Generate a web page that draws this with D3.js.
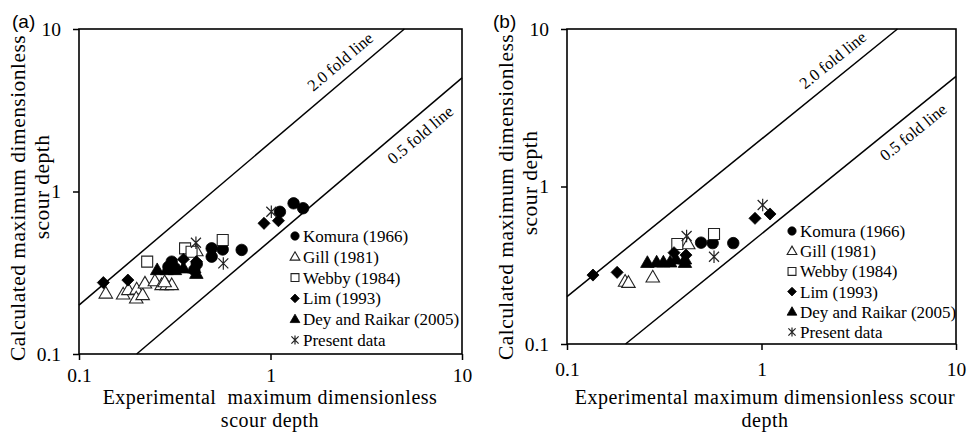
<!DOCTYPE html>
<html>
<head>
<meta charset="utf-8">
<script src="https://cdn.jsdelivr.net/npm/d3@7"></script>
<style>
  html, body { margin: 0; padding: 0; background: #fff; }
  svg text { font-family: "Liberation Serif", "Times New Roman", serif; fill: #000; }
</style>
</head>
<body>
<svg id="chart" width="968" height="432"></svg>
<script>
// Axis ticks (log scales, both axes)
const tickValues = [0.1, 1, 10];
const tickLabels = ["0.1", "1", "10"];

// Series names in legend order
const seriesNames = ["Komura (1966)", "Gill (1981)", "Webby (1984)", "Lim (1993)", "Dey and Raikar (2005)", "Present data"];

// Panel (a): [experimental, calculated]
const komuraA = [[0.305,0.370],[0.293,0.344],[0.317,0.337],[0.412,0.358],[0.400,0.329],[0.493,0.447],[0.493,0.397],[0.563,0.440],[0.707,0.437],[1.12,0.750],[1.32,0.846],[1.48,0.789]];
const gillA = [[0.138,0.236],[0.170,0.233],[0.181,0.248],[0.200,0.250],[0.199,0.220],[0.215,0.231],[0.221,0.272],[0.249,0.281],[0.270,0.266],[0.287,0.266],[0.305,0.266],[0.280,0.277],[0.410,0.430]];
const webbyA = [[0.227,0.370],[0.358,0.447],[0.387,0.426],[0.563,0.503]];
const limA = [[0.134,0.275],[0.180,0.285],[0.351,0.383],[0.410,0.370],[0.925,0.637],[1.10,0.661]];
const deyA = [[0.256,0.329],[0.287,0.329],[0.317,0.329],[0.351,0.337],[0.400,0.337],[0.410,0.312]];
const presentA = [[0.408,0.484],[0.567,0.361],[1.01,0.751]];

// Panel (b): [experimental, calculated]
const komuraB = [[0.489,0.440],[0.561,0.437],[0.716,0.437]];
const gillB = [[0.199,0.249],[0.207,0.245],[0.276,0.265],[0.420,0.431]];
const webbyB = [[0.369,0.431],[0.570,0.499]];
const limB = [[0.136,0.274],[0.181,0.285],[0.355,0.380],[0.409,0.367],[0.926,0.628],[1.106,0.669]];
const deyB = [[0.259,0.328],[0.289,0.330],[0.313,0.330],[0.339,0.330],[0.363,0.345],[0.404,0.328],[0.404,0.345]];
const presentB = [[0.412,0.485],[0.570,0.358],[1.014,0.763]];

// Fold lines: calculated = factor * experimental
const foldFactors = [2.0, 0.5];
const foldLabels = ["2.0 fold line", "0.5 fold line"];
const foldLabelAt = [2.63, 5.33];   // experimental value where each label sits

const SERIF = '"Liberation Serif", "Times New Roman", serif';
const svg = d3.select("#chart");

// Marker path generators
function markerPath(kind, s) {
  const p = d3.path();
  if (kind === "circle") {
    p.arc(0, 0, s * 0.5, 0, Math.PI * 2); p.closePath();
  } else if (kind === "triangle") {
    const h = s * Math.sqrt(3) / 2;
    p.moveTo(0, -h * 0.6); p.lineTo(s / 2, h * 0.4); p.lineTo(-s / 2, h * 0.4); p.closePath();
  } else if (kind === "square") {
    p.rect(-s / 2, -s / 2, s, s);
  } else if (kind === "diamond") {
    const r = s * 0.55;
    p.moveTo(0, -r); p.lineTo(r, 0); p.lineTo(0, r); p.lineTo(-r, 0); p.closePath();
  } else if (kind === "star") {
    const r = s * 0.5, d = r * 0.8;
    p.moveTo(-d, -d); p.lineTo(d, d);
    p.moveTo(d, -d); p.lineTo(-d, d);
    p.moveTo(0, -r); p.lineTo(0, r);
  }
  return p.toString();
}

const styles = [
  { kind: "circle",   fill: "#000", stroke: "#000", sw: 0.8, size: 11.5 },
  { kind: "triangle", fill: "#fff", stroke: "#222", sw: 1.1, size: 13.5 },
  { kind: "square",   fill: "#fff", stroke: "#222", sw: 1.1, size: 11 },
  { kind: "diamond",  fill: "#000", stroke: "#000", sw: 0.8, size: 11 },
  { kind: "triangle", fill: "#000", stroke: "#000", sw: 0.8, size: 13.5 },
  { kind: "star",     fill: "none", stroke: "#222", sw: 1.2, size: 12.5 }
];

function drawPanel(cfg) {
  const g = svg.append("g");
  const x = d3.scaleLog().domain([0.1, 10]).range([cfg.left, cfg.right]);
  const y = d3.scaleLog().domain([0.1, 10]).range([cfg.bottom, cfg.top]);

  // Fold lines y = f·x, cut to the plotting box
  foldFactors.forEach(f => {
    const x0 = Math.max(0.1, 0.1 / f), x1 = Math.min(10, 10 / f);
    g.append("line")
      .attr("x1", x(x0)).attr("y1", y(x0 * f))
      .attr("x2", x(x1)).attr("y2", y(x1 * f))
      .attr("stroke", "#000").attr("stroke-width", 1.5);
  });

  // Fold line labels, rotated along the line
  const ang = Math.atan2(y(10) - y(1), x(10) - x(1)) * 180 / Math.PI;
  foldFactors.forEach((f, i) => {
    const xv = foldLabelAt[i];
    const px = x(xv), py = y(xv * f);
    g.append("text")
      .attr("transform", `translate(${px},${py}) rotate(${ang})`)
      .attr("x", 0).attr("y", f > 1 ? -11 : 22)
      .attr("text-anchor", "middle")
      .style("font-family", SERIF).style("font-size", "16.5px")
      .text(foldLabels[i]);
  });

  // Frame
  g.append("rect")
    .attr("x", cfg.left).attr("y", cfg.top)
    .attr("width", cfg.right - cfg.left).attr("height", cfg.bottom - cfg.top)
    .attr("fill", "none").attr("stroke", "#000").attr("stroke-width", 1.6);

  // Axes
  const xAxis = d3.axisBottom(x).tickValues(tickValues)
    .tickFormat((d, i) => tickLabels[i]).tickSize(6).tickSizeOuter(0);
  const yAxis = d3.axisLeft(y).tickValues(tickValues)
    .tickFormat((d, i) => tickLabels[i]).tickSize(6).tickSizeOuter(0);

  const gx = g.append("g").attr("transform", `translate(0,${cfg.bottom})`).call(xAxis);
  const gy = g.append("g").attr("transform", `translate(${cfg.left},0)`).call(yAxis);
  [gx, gy].forEach(a => {
    a.select(".domain").remove();
    a.selectAll(".tick line").attr("stroke", "#000").attr("stroke-width", 1.5);
    a.selectAll(".tick text")
      .style("font-family", SERIF).style("font-size", "19.5px").attr("fill", "#000");
  });
  gx.selectAll(".tick text").attr("y", cfg.xTickY).attr("dy", 0);
  gy.selectAll(".tick text").attr("x", -18).attr("dy", "0.33em");

  // Axis titles
  const xt = g.append("text")
    .attr("text-anchor", "middle")
    .style("font-family", SERIF).style("font-size", "20px")
    .style("letter-spacing", "0.5px").style("white-space", "pre");
  cfg.xTitle.forEach((line, i) => {
    xt.append("tspan").attr("x", cfg.xTitleX).attr("y", 404 + i * 22.5).text(line);
  });

  const yt = g.append("text")
    .attr("transform", `rotate(-90)`)
    .attr("text-anchor", "middle")
    .style("font-family", SERIF).style("font-size", "21.5px")
    .style("letter-spacing", "0.45px");
  cfg.yTitle.forEach((line, i) => {
    yt.append("tspan").attr("x", -cfg.yTitleCenters[i]).attr("y", cfg.left - 54 + i * 24).text(line);
  });

  // Panel tag
  g.append("text")
    .attr("x", cfg.tagX).attr("y", 28)
    .style("font-family", '"Liberation Sans", Arial, sans-serif')
    .style("font-size", "19px").text(cfg.tag);

  // Points
  cfg.series.forEach((data, si) => {
    const st = styles[si];
    g.append("g").selectAll("path").data(data).join("path")
      .attr("transform", d => `translate(${x(d[0])},${y(d[1])})`)
      .attr("d", markerPath(st.kind, st.size))
      .attr("fill", st.fill).attr("stroke", st.stroke).attr("stroke-width", st.sw);
  });

  // Legend
  const lg = g.append("g").attr("transform", `translate(${cfg.legX},${cfg.legY})`);
  seriesNames.forEach((name, i) => {
    const st = styles[i];
    const row = lg.append("g").attr("transform", `translate(0,${i * cfg.legStep})`);
    row.append("path")
      .attr("d", markerPath(st.kind, st.size * 0.72))
      .attr("fill", st.fill).attr("stroke", st.stroke).attr("stroke-width", st.sw);
    row.append("text").attr("x", 8).attr("dy", "0.35em")
      .style("font-family", SERIF).style("font-size", "17px").text(name);
  });
}

drawPanel({
  id: "a", tag: "(a)", tagX: 12,
  left: 79, right: 462, top: 29, bottom: 354, xTickY: 28,
  xTitle: ["Experimental  maximum dimensionless", "scour depth"], xTitleX: 270,
  yTitle: ["Calculated maximum dimensionless", "scour depth"], yTitleCenters: [198, 187],
  legX: 295, legY: 236, legStep: 20.8,
  series: [komuraA, gillA, webbyA, limA, deyA, presentA]
});

drawPanel({
  id: "b", tag: "(b)", tagX: 493,
  left: 567, right: 956, top: 29, bottom: 344, xTickY: 32,
  xTitle: ["Experimental maximum dimensionless scour", "depth"], xTitleX: 765,
  yTitle: ["Calculated maximum dimensionless", "scour depth"], yTitleCenters: [197, 183],
  legX: 792, legY: 231, legStep: 20.2,
  series: [komuraB, gillB, webbyB, limB, deyB, presentB]
});
</script>
</body>
</html>
